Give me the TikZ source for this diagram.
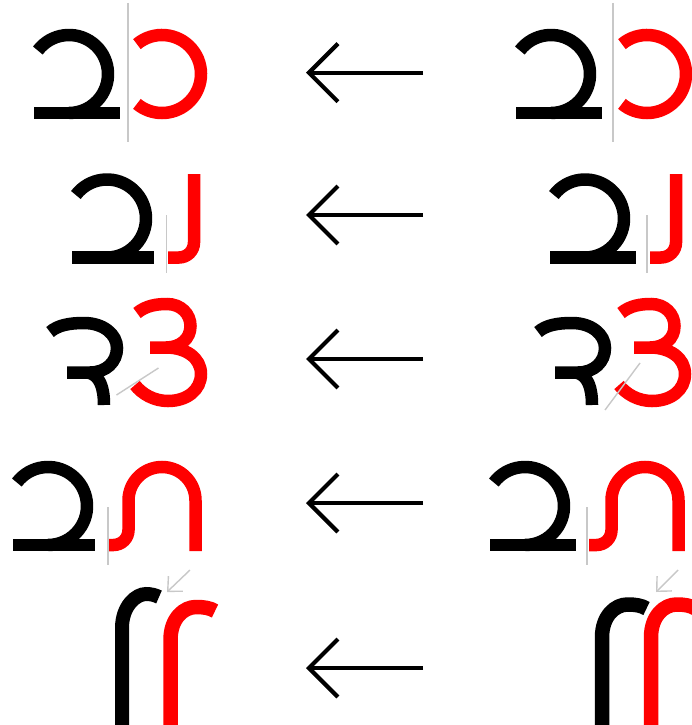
\documentclass[tikz,border=0pt]{standalone}
\usepackage{xcolor}
\usetikzlibrary{arrows.meta}
\definecolor{guidegray}{RGB}{200,200,200}
\tikzset{
    ink/.style={line width=12.5pt},
    inkblack/.style={ink, draw=black},
    inkred/.style={ink, draw=red},
    guide/.style={draw=guidegray, line width=1.4pt},
    kernarrow/.style={line width=4.2pt, -{Straight Barb[length=29pt,width=58pt]}},
    guidearrow/.style={guide, -{Straight Barb[length=11pt,width=21pt]}},
    % black glyph with hook, bowl and base bar
    pics/bowlbar/.style={code={
        \draw[inkblack] (0,0) -- (#1,0);
        \draw[inkblack] (35,-39) ++(217:39) arc[start angle=217, end angle=450, radius=39];
    }},
    pics/revc/.style={code={
        \draw[inkred] (0,0) ++(230:39) arc[start angle=230, end angle=490, radius=39];
    }},
    pics/hookj/.style={code={
        \draw[inkred] (26,-83.5) -- (26,-15) arc[start angle=0, end angle=90, radius=15] -- (0,0);
    }},
    pics/legr/.style={code={
        \draw[inkblack] (-17,-40.5) .. controls (-9,-47.5) and (3,-49.5) .. (17,-49.5)
            .. controls (36,-49.5) and (50,-38.5) .. (50,-24.5)
            .. controls (50,-10.5) and (39,0) .. (23,0) -- (0,0);
        \draw[inkblack] (21,0) .. controls (33,2.5) and (37,15.5) .. (37,32.5);
    }},
    pics/three/.style={code={
        \draw[inkred] (-13,-34.5) .. controls (-4,-42) and (7,-43.5) .. (17,-43.5)
            .. controls (31,-43.5) and (40.5,-33.5) .. (40.5,-21.5)
            .. controls (40.5,-8.5) and (30,0) .. (16,0) -- (0,0);
        \draw[inkred] (16,0) .. controls (36,0) and (51,10.5) .. (51,26.5)
            .. controls (51,42.5) and (37,53.5) .. (18,53.5)
            .. controls (4,53.5) and (-8,46.5) .. (-15,37.5);
    }},
    pics/arch/.style={code={
        \draw[inkred] (-#1,0) -- (-15,0) arc[start angle=90, end angle=0, radius=15]
            -- (0,-44.5) arc[start angle=180, end angle=360, radius=33.5] -- (67,6);
    }},
    pics/hookr/.style={code={
        \draw[#1, line width=14.5pt] (0,125) -- (0,33) .. controls (0,11) and (13.5,0) .. (25.5,0)
            .. controls (33.5,0) and (39.5,1) .. (44.5,4);
    }},
    pics/hookrnarrow/.style={code={
        \draw[inkblack, line width=14pt] (0,135) -- (0,34) .. controls (0,12) and (14,0) .. (24,0)
            .. controls (29,0) and (33,1) .. (37,3);
    }},
}

\begin{document}
\begin{tikzpicture}[x=1pt, y=-1pt]
    \useasboundingbox[fill=white] (0,0) rectangle (691,725);

    % row 1
    \draw[guide] (128,3) -- (128,142);
    \pic at (34,113) {bowlbar=86};
    \pic at (162,74) {revc};
    \draw[guide] (613,3) -- (613,142);
    \pic at (516,113) {bowlbar=86};
    \pic at (647,74) {revc};

    % row 2
    \draw[guide] (166.5,215) -- (166.5,273);
    \pic at (72,257.5) {bowlbar=81.5};
    \pic at (168,257.5) {hookj};
    \draw[guide] (647,215) -- (647,273);
    \pic at (550,257.5) {bowlbar=86};
    \pic at (650,257.5) {hookj};

    % row 3
    \pic at (67,372.5) {legr};
    \pic at (150,347.5) {three};
    \draw[guide] (116.5,395) -- (158.5,368);
    \pic at (555,372.5) {legr};
    \pic at (634,347.5) {three};
    \draw[guide] (605,410) -- (640,363);

    % row 4
    \draw[guide] (108,507) -- (108,565);
    \pic at (13,545) {bowlbar=82};
    \pic at (128.5,545) {arch=19.5};
    \draw[guide] (587,507) -- (587,565);
    \pic at (490,545) {bowlbar=86};
    \pic at (611.5,545) {arch=22.5};

    % row 5
    \pic at (122,594) {hookrnarrow};
    \pic at (170.5,607) {hookr=red};
    \coordinate (mk1 from) at (190,570);
    \coordinate (mk1 to) at (167,592);
    \draw[guidearrow] (mk1 from) -- (mk1 to);
    \pic at (602,604.5) {hookr=black};
    \pic at (651,604.5) {hookr=red};
    \coordinate (mk2 from) at (678,570);
    \coordinate (mk2 to) at (656,592);
    \draw[guidearrow] (mk2 from) -- (mk2 to);

    % arrows
    \foreach \y [count=\i] in {72.7,215,359,503,668} {
        \coordinate (arr\i from) at (423,\y);
        \coordinate (arr\i to) at (306,\y);
        \draw[kernarrow] (arr\i from) -- (arr\i to);
    }
\end{tikzpicture}
\end{document}
